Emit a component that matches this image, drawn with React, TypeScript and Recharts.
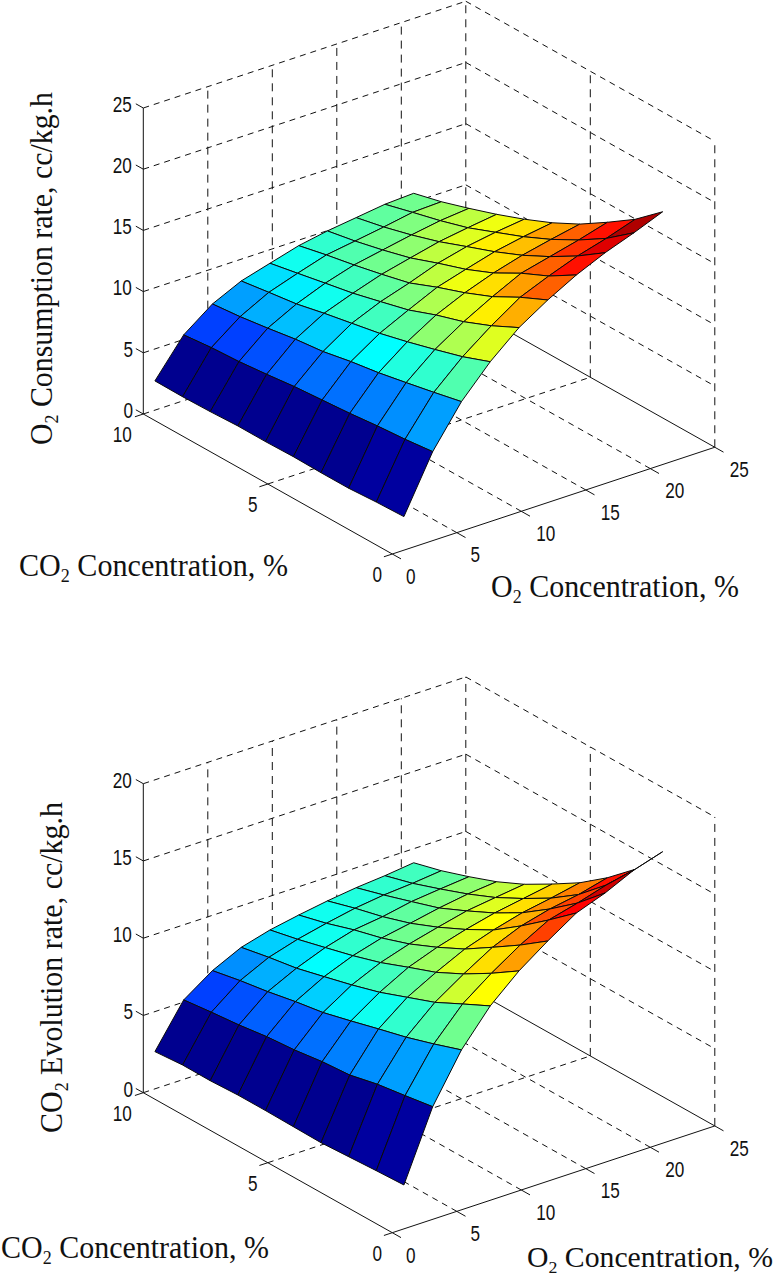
import { ScatterChart, Scatter, XAxis, YAxis } from "recharts";

// Surface nodes
const o2Levels = [0.9, 3.13, 5.36, 7.59, 9.82, 12.05, 14.27, 16.5, 18.73, 20.96];
const co2Levels = [0, 1.11, 2.22, 3.33, 4.44, 5.56, 6.67, 7.78, 8.89, 10];

// rows follow o2Levels, columns follow co2Levels
const o2Consumption = [
  [2.74, 2.66, 2.52, 2.52, 2.56, 2.51, 2.52, 2.42, 2.37, 2.39],
  [7.27, 7.01, 6.83, 6.59, 6.41, 6.23, 5.96, 5.73, 5.6, 5.37],
  [10.58, 10.07, 9.59, 9.13, 8.77, 8.31, 8.05, 7.68, 7.35, 7.12],
  [13.06, 12.2, 11.52, 10.88, 10.3, 9.84, 9.39, 8.88, 8.56, 8.22],
  [15.07, 13.95, 13.01, 12.29, 11.43, 10.83, 10.25, 9.8, 9.34, 8.89],
  [16.55, 15.5, 14.28, 13.33, 12.51, 11.58, 11.02, 10.51, 10.06, 9.55],
  [17.82, 16.46, 15.42, 14.17, 13.2, 12.42, 11.58, 10.96, 10.42, 9.98],
  [18.86, 17.32, 16.0, 14.84, 13.86, 13.0, 12.13, 11.41, 10.79, 10.29],
  [19.71, 17.98, 16.58, 15.36, 14.31, 13.39, 12.49, 11.8, 11.21, 10.6],
  [20.65, 18.76, 17.25, 15.83, 14.67, 13.68, 12.81, 12.03, 11.3, 10.72],
];

const co2Evolution = [
  [2.84, 2.76, 2.66, 2.56, 2.59, 2.62, 2.62, 2.54, 2.55, 2.41],
  [7.29, 7.0, 6.73, 6.32, 6.18, 5.93, 5.78, 5.53, 5.35, 5.14],
  [10.35, 9.73, 9.16, 8.69, 8.2, 7.73, 7.43, 7.07, 6.78, 6.42],
  [12.58, 11.7, 10.8, 10.12, 9.44, 8.9, 8.43, 7.97, 7.67, 7.31],
  [14.23, 13.07, 12.02, 11.12, 10.44, 9.73, 9.17, 8.69, 8.22, 7.82],
  [15.55, 14.28, 13.13, 12.01, 11.12, 10.32, 9.7, 9.22, 8.64, 8.17],
  [16.75, 15.29, 13.9, 12.63, 11.66, 10.79, 10.04, 9.46, 9.0, 8.47],
  [17.43, 15.77, 14.38, 13.13, 12.11, 11.23, 10.41, 9.82, 9.24, 8.71],
  [18.3, 16.32, 14.7, 13.46, 12.43, 11.48, 10.7, 10.02, 9.38, 8.87],
  [18.87, 16.72, 15.17, 13.84, 12.75, 11.72, 10.88, 10.2, 9.58, 9.09],
];

const o2Ticks = [0, 5, 10, 15, 20, 25];
const co2Ticks = [0, 5, 10];
const consumptionTicks = [0, 5, 10, 15, 20, 25];
const evolutionTicks = [0, 5, 10, 15, 20];

const WIDTH = 776;
const HEIGHT = 1276;
const INK = "#111";
const SERIF = "'Liberation Serif', serif";
const SANS = "'Liberation Sans', sans-serif";

// orthographic view of the axes box, one per panel
const topView = { originY: 554, zUnit: 12.24 };
const bottomView = { originY: 1232.7, zUnit: 15.45 };

type View = typeof topView;

function project(view: View, o2: number, co2: number, z: number) {
  return {
    px: 392.3 + 12.9 * o2 - 24.9 * co2,
    py: view.originY - 4.27 * o2 - 14 * co2 - view.zUnit * z,
  };
}

function jet(t: number) {
  const idx = Math.min(63, Math.floor(t * 64));
  const v = (idx + 1) / 64;
  const c = (a: number) => Math.round(255 * Math.max(0, Math.min(1, a)));
  const r = c(Math.min(4 * v - 1.5, -4 * v + 4.5));
  const g = c(Math.min(4 * v - 0.5, -4 * v + 3.5));
  const b = c(Math.min(4 * v + 0.5, -4 * v + 2.5));
  return `rgb(${r},${g},${b})`;
}

const noDot = () => <g />;

function segment(key: string, a: object, b: object, dash?: string) {
  return (
    <Scatter
      key={key}
      data={[a, b]}
      shape={noDot}
      isAnimationActive={false}
      line={{ stroke: INK, strokeWidth: 1, strokeDasharray: dash, fill: "none" }}
    />
  );
}

function label(key: string, px: number, py: number, text: string) {
  return (
    <Scatter
      key={key}
      data={[{ px, py }]}
      isAnimationActive={false}
      shape={(p: any) => (
        <text
          transform={`translate(${p.cx},${p.cy}) scale(0.78,1)`}
          textAnchor="middle"
          dominantBaseline="central"
          fontFamily={SANS}
          fontSize={22}
          fill="#111"
        >
          {text}
        </text>
      )}
    />
  );
}

// axis title with a subscript 2 after the chemical symbol
function title(
  key: string,
  px: number,
  py: number,
  symbol: string,
  rest: string,
  length: number,
  size: number,
  rotate: number,
) {
  return (
    <Scatter
      key={key}
      data={[{ px, py }]}
      isAnimationActive={false}
      shape={(p: any) => (
        <text
          transform={`translate(${p.cx},${p.cy}) rotate(${rotate})`}
          fontFamily={SERIF}
          fontSize={size}
          fill="#111"
          textLength={length}
          lengthAdjust="spacingAndGlyphs"
        >
          {symbol}
          <tspan dy={6} fontSize={size * 0.6}>
            2
          </tspan>
          <tspan dy={-6}>{rest}</tspan>
        </text>
      )}
    />
  );
}

function box(view: View, zTicks: number[], prefix: string) {
  const zTop = zTicks[zTicks.length - 1];
  const o2Max = o2Ticks[o2Ticks.length - 1];
  const co2Max = co2Ticks[co2Ticks.length - 1];
  const P = (o2: number, co2: number, z: number) => project(view, o2, co2, z);
  const out: any[] = [];

  // walls and floor, dashed
  zTicks.slice(1).forEach((z) => {
    out.push(segment(`${prefix}wl${z}`, P(0, co2Max, z), P(o2Max, co2Max, z), "6 5"));
    out.push(segment(`${prefix}wr${z}`, P(o2Max, co2Max, z), P(o2Max, 0, z), "6 5"));
  });
  o2Ticks.slice(1).forEach((o2) => {
    out.push(segment(`${prefix}vl${o2}`, P(o2, co2Max, 0), P(o2, co2Max, zTop), "8 6"));
    if (o2 < o2Max) out.push(segment(`${prefix}fo${o2}`, P(o2, 0, 0), P(o2, co2Max, 0), "6 5"));
  });
  co2Ticks.slice(0, -1).forEach((co2) => {
    out.push(segment(`${prefix}vr${co2}`, P(o2Max, co2, 0), P(o2Max, co2, zTop), "8 6"));
  });
  co2Ticks.slice(1).forEach((co2) => {
    out.push(segment(`${prefix}fc${co2}`, P(0, co2, 0), P(o2Max, co2, 0), "6 5"));
  });

  // solid axes
  out.push(segment(`${prefix}az`, P(0, co2Max, 0), P(0, co2Max, zTop)));
  out.push(segment(`${prefix}ac`, P(0, 0, 0), P(0, co2Max, 0)));
  out.push(segment(`${prefix}ao`, P(0, 0, 0), P(o2Max, 0, 0)));
  out.push(segment(`${prefix}ab`, P(o2Max, 0, 0), P(o2Max, co2Max, 0)));

  // ticks and their numbers
  zTicks.forEach((z) => {
    out.push(segment(`${prefix}tz${z}`, P(0, co2Max, z), P(0, co2Max + 0.3, z)));
    const at = P(0, co2Max, z);
    out.push(label(`${prefix}lz${z}`, at.px + (z < 10 ? -15 : -21), at.py - 4, String(z)));
  });
  co2Ticks.forEach((co2) => {
    out.push(segment(`${prefix}tc${co2}`, P(0, co2, 0), P(-0.65, co2, 0)));
    const at = P(0, co2, 0);
    out.push(label(`${prefix}lc${co2}`, at.px + (co2 < 10 ? -15 : -21), at.py + 20, String(co2)));
  });
  o2Ticks.forEach((o2) => {
    out.push(segment(`${prefix}to${o2}`, P(o2, 0, 0), P(o2, -0.35, 0)));
    const at = P(o2, 0, 0);
    out.push(label(`${prefix}lo${o2}`, at.px + (o2 < 10 ? 18.5 : 24.5), at.py + 22, String(o2)));
  });
  return out;
}

function surface(view: View, rates: number[][], prefix: string) {
  const all = rates.flat();
  const lo = Math.min(...all);
  const hi = Math.max(...all);
  const out: any[] = [];
  // far cells first so near ones paint over them
  for (let i = o2Levels.length - 2; i >= 0; i--) {
    for (let j = co2Levels.length - 2; j >= 0; j--) {
      const corner = (a: number, b: number) => project(view, o2Levels[a], co2Levels[b], rates[a][b]);
      const fill = jet((rates[i][j] - lo) / (hi - lo));
      out.push(
        <Scatter
          key={`${prefix}c${i}-${j}`}
          data={[corner(i, j), corner(i + 1, j), corner(i + 1, j + 1), corner(i, j + 1)]}
          shape={noDot}
          isAnimationActive={false}
          line={(p: any) => (
            <polygon
              points={p.points.map((q: any) => `${q.x},${q.y}`).join(" ")}
              fill={fill}
              stroke="#0a0a0a"
              strokeWidth={1}
              strokeLinejoin="round"
            />
          )}
        />,
      );
    }
  }
  return out;
}

export default function App() {
  return (
    <div style={{ position: "absolute", left: 0, top: 0, width: WIDTH, height: HEIGHT, background: "#fff" }}>
      <ScatterChart width={WIDTH} height={HEIGHT} margin={{ top: 0, right: 0, bottom: 0, left: 0 }}>
        <XAxis type="number" dataKey="px" domain={[0, WIDTH]} hide allowDataOverflow />
        <YAxis type="number" dataKey="py" domain={[0, HEIGHT]} reversed hide allowDataOverflow />

        {box(topView, consumptionTicks, "a")}
        {surface(topView, o2Consumption, "a")}
        {title("t1", 52, 445, "O", " Consumption rate, cc/kg.h", 353, 31, -90)}
        {title("t2", 19, 576, "CO", " Concentration, %", 269, 31, 0)}
        {title("t3", 491, 597, "O", " Concentration, %", 248, 31, 0)}

        {box(bottomView, evolutionTicks, "b")}
        {surface(bottomView, co2Evolution, "b")}
        {title("t4", 62, 1133, "CO", " Evolution rate, cc/kg.h", 331, 31, -90)}
        {title("t5", 1, 1258, "CO", " Concentration, %", 268, 31, 0)}
        {title("t6", 527, 1267, "O", " Concentration, %", 246, 29, 0)}
      </ScatterChart>
    </div>
  );
}
